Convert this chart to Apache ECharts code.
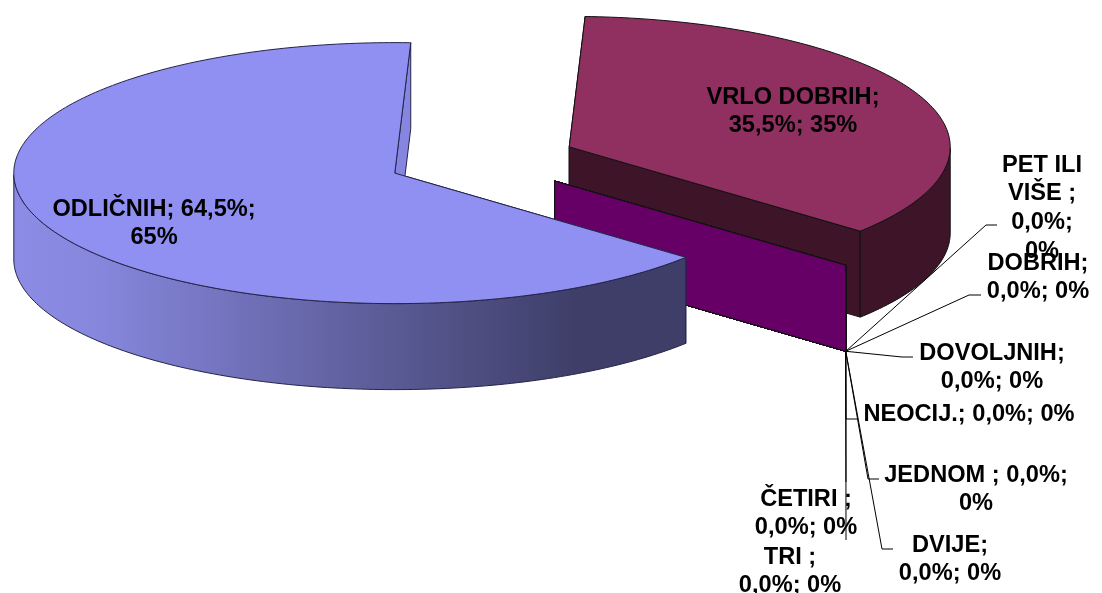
<!DOCTYPE html>
<html>
<head>
<meta charset="utf-8">
<style>
html, body { margin: 0; padding: 0; background: #fff; }
#chart { width: 1102px; height: 593px; }
</style>
<script src="https://cdn.jsdelivr.net/npm/echarts@6/dist/echarts.min.js"></script>
</head>
<body>
<div id="chart"></div>
<script>
// slice order runs clockwise; back slices first so the painter order works out
const categories = ['VRLO DOBRIH', 'PET ILI VIŠE ', 'DOBRIH', 'DOVOLJNIH', 'NEOCIJ.', 'JEDNOM ', 'DVIJE', 'TRI ', 'ČETIRI ', 'ODLIČNIH'];
const shares = [35.5, 0, 0, 0, 0, 0, 0, 0, 0, 64.5];
const roundedPct = [35, 0, 0, 0, 0, 0, 0, 0, 0, 65];

const RX = 381, RY = 130.5, DEPTH = 86;
const CX = 482, CY = 160;
const EXPLODE = 0.25;
const START_ANGLE = 87.6;

const styles = {
  'VRLO DOBRIH': { top: '#8f3060', wall: '#3d1428', cut: '#3d1428', cutStart: '#3d1428' },
  'ODLIČNIH': { top: '#9090f2', cut: '#8686e0', cutStart: '#3e3e68', wall: {
    type: 'linear', x: 0, y: 0, x2: 1, y2: 0,
    colorStops: [
      { offset: 0, color: '#8c8ce6' },
      { offset: 0.13, color: '#8686dc' },
      { offset: 0.84, color: '#3e3e68' },
      { offset: 1, color: '#3e3e68' }
    ]
  } }
};
const zeroStyle = { top: '#660066', wall: '#660066', cut: '#660066', cutStart: '#660066' };

// label centre, first line y and leader elbow
const labelLayout = {
  'VRLO DOBRIH': { x: 793, y: 97, lines: ['VRLO DOBRIH;', '35,5%; 35%'] },
  'ODLIČNIH': { x: 154, y: 209, lines: ['ODLIČNIH; 64,5%;', '65%'] },
  'PET ILI VIŠE ': { x: 1042, y: 165, lines: ['PET ILI', 'VIŠE ;', '0,0%;', '0%'], leader: [[986, 225], [997, 225]] },
  'DOBRIH': { x: 1038, y: 263, leader: [[969, 295], [981, 295]] },
  'DOVOLJNIH': { x: 992, y: 353, leader: [[902, 357], [913, 357]] },
  'NEOCIJ.': { x: 969, y: 414, lines: ['NEOCIJ.; 0,0%; 0%'], leader: [[846, 419], [858, 419]] },
  'JEDNOM ': { x: 976, y: 475, lines: ['JEDNOM ; 0,0%;', '0%'], leader: [[868, 479], [879, 479]] },
  'DVIJE': { x: 950, y: 545, leader: [[882, 549], [893, 549]] },
  'TRI ': { x: 790, y: 557, leader: [[846, 540]] },
  'ČETIRI ': { x: 806, y: 499, leader: [[846, 482]] }
};

function labelLines(i) {
  const layout = labelLayout[categories[i]];
  if (layout.lines) return layout.lines;
  return [categories[i] + ';', shares[i].toFixed(1).replace('.', ',') + '%; ' + roundedPct[i] + '%'];
}

// angle spans of every slice, going clockwise from START_ANGLE
const spans = [];
let cursor = START_ANGLE;
shares.forEach(function (share) {
  const sweep = share / 100 * 360;
  spans.push({ from: cursor, to: cursor - sweep });
  cursor -= sweep;
});

function rim(cx, cy, deg) {
  const a = deg * Math.PI / 180;
  return [cx + RX * Math.cos(a), cy - RY * Math.sin(a)];
}

function down(p) {
  return [p[0], p[1] + DEPTH];
}

function poly(points, fill, stroke) {
  return {
    type: 'polygon',
    shape: { points: points },
    style: { fill: fill, stroke: stroke, lineWidth: 1, lineJoin: 'round' }
  };
}

function renderSlice(params, api) {
  const i = api.value(0);
  const name = categories[i];
  const span = spans[i];
  const mid = (span.from + span.to) / 2 * Math.PI / 180;
  const cx = CX + EXPLODE * RX * Math.cos(mid);
  const cy = CY - EXPLODE * RY * Math.sin(mid);
  const apex = [cx, cy];
  const st = styles[name] || zeroStyle;
  const line = i === categories.length - 1 ? '#24244a' : '#111';
  const children = [];

  // the two cut faces, start one first
  const a = rim(cx, cy, span.from);
  const b = rim(cx, cy, span.to);
  children.push(poly([apex, a, down(a), down(apex)], st.cutStart, line));
  children.push(poly([apex, b, down(b), down(apex)], st.cut, line));

  if (span.from !== span.to) {
    // outer wall, only the part of the rim facing the viewer
    const upper = [];
    for (let d = span.from; d >= span.to; d -= 1) {
      const s = Math.sin(d * Math.PI / 180);
      if (s <= 0) upper.push(rim(cx, cy, d));
    }
    if (Math.sin(span.to * Math.PI / 180) <= 0) upper.push(b);
    const lower = upper.map(down).reverse();
    children.push(poly(upper.concat(lower), st.wall, line));

    // top face
    const top = [apex];
    for (let d = span.from; d > span.to; d -= 1) top.push(rim(cx, cy, d));
    top.push(b);
    children.push(poly(top, st.top, line));
  }

  const layout = labelLayout[name];
  if (layout.leader) {
    children.push({
      type: 'polyline',
      shape: { points: [down(b)].concat(layout.leader) },
      style: { fill: null, stroke: '#000', lineWidth: 1 }
    });
  }
  labelLines(i).forEach(function (text, n) {
    children.push({
      type: 'text',
      z2: 10,
      style: {
        x: layout.x,
        y: layout.y + n * 28.7,
        text: text,
        fill: '#000',
        align: 'center',
        verticalAlign: 'middle',
        font: 'bold 23.6px "Liberation Sans", Arial, sans-serif'
      }
    });
  });
  return { type: 'group', children: children };
}

const chart = echarts.init(document.getElementById('chart'), null, { renderer: 'canvas' });
chart.setOption({
  animation: false,
  backgroundColor: '#fff',
  series: [{
    type: 'custom',
    coordinateSystem: 'none',
    renderItem: renderSlice,
    data: categories.map(function (name, i) { return [i, shares[i]]; })
  }]
});
</script>
</body>
</html>
